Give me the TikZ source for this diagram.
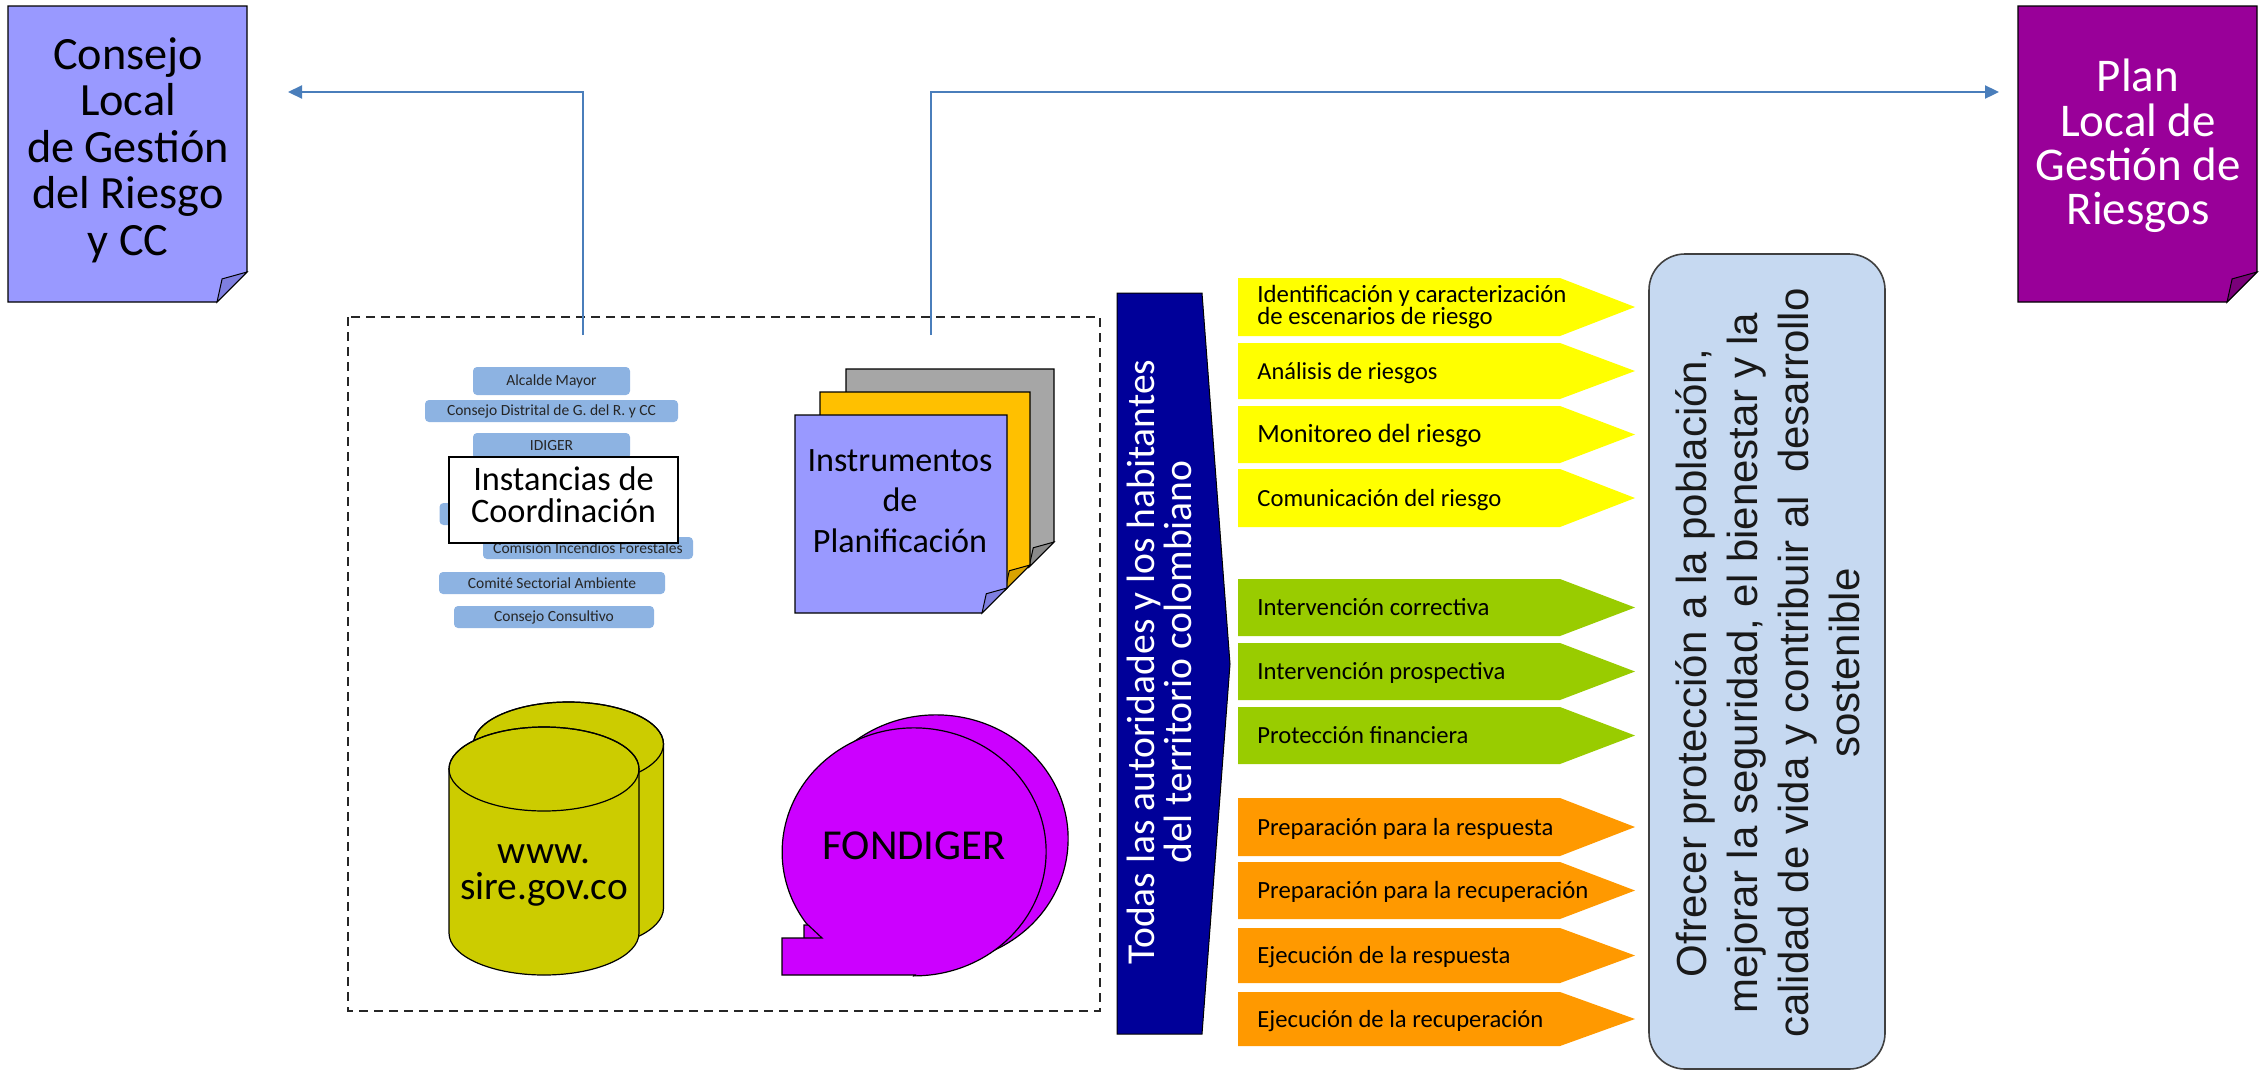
\documentclass[tikz,border=0pt]{standalone}
\usepackage{fontspec}
\setmainfont{Carlito}
\newfontfamily\arialf{Liberation Sans}
\usetikzlibrary{arrows.meta}
\definecolor{docblue}{HTML}{9999FF}
\definecolor{docbluecurl}{HTML}{7F7FE0}
\definecolor{docpurple}{HTML}{990099}
\definecolor{docpurplecurl}{HTML}{7A007A}
\definecolor{navyband}{HTML}{000099}
\definecolor{chevyellow}{HTML}{FFFF00}
\definecolor{chevgreen}{HTML}{99CC00}
\definecolor{chevorange}{HTML}{FF9900}
\definecolor{paleblue}{HTML}{C6D9F1}
\definecolor{boxblue}{HTML}{8DB3E2}
\definecolor{cylfill}{HTML}{CCCC00}
\definecolor{magfill}{HTML}{CC00FF}
\definecolor{graysheet}{HTML}{A6A6A6}
\definecolor{graycurl}{HTML}{8A8A8A}
\definecolor{goldsheet}{HTML}{FFC000}
\definecolor{goldcurl}{HTML}{D9A300}
\definecolor{linkblue}{HTML}{4A7EBB}
\newcommand\fsz[2]{\fontsize{#1}{#2}\selectfont}
% font size chosen so that text #1 is #2 pt wide; baselineskip #3 pt
\newcommand\fitfont[3]{%
  \setbox0=\hbox{\fontsize{10}{12}\selectfont #1}%
  \pgfmathsetmacro\fitsz{10*#2/\wd0}%
  \fontsize{\fitsz}{#3}\selectfont}
% x1 y1 x2 y2 fill curlfill fold
\newcommand\docsheet[7]{%
  \filldraw[fill=#5, draw=black, line width=0.6pt] (#1,#2) -- (#3,#2) -- (#3,{#4-#7}) -- ({#3-#7},#4) -- (#1,#4) -- cycle;
  \filldraw[fill=#6, draw=black, line width=0.5pt] ({#3-#7},#4) -- ({#3-0.83*#7},{#4-0.77*#7}) -- (#3,{#4-#7}) -- cycle;}
% y1 y2 colour name width(pt) text
\newcommand\mychev[6]{%
  \fill[#3] (1238,#1) -- (1560,#1) -- (1635,{(#1+#2)/2}) -- (1560,#2) -- (1238,#2) -- cycle;
  \node[chevtext, font={\fitfont{#6}{#5}{14}}] (#4) at (1257,{(#1+#2)/2+8}) {#6};}
% cx ytop ybot fill
\newcommand\cylshape[4]{%
  \filldraw[fill=#4, draw=black, line width=0.6pt] ({#1-95},#2) -- ({#1-95},#3)
    arc[start angle=180, end angle=360, x radius=47.5pt, y radius=21pt] -- ({#1+95},#2)
    arc[start angle=0, end angle=180, x radius=47.5pt, y radius=21pt] -- cycle;
  \draw[line width=0.6pt] (#1,#2) ellipse[x radius=47.5pt, y radius=21pt];}
% dx dy fill
\newcommand\fondshape[3]{%
  \filldraw[fill=#3, draw=black, line width=0.6pt, shift={(#1,#2)}] (915,975) -- (782,975) -- (782,938) -- (822,938) -- (806,923)
    arc[start angle=215, end angle=-90, x radius=66pt, y radius=62pt] -- cycle;}
\begin{document}
\begin{tikzpicture}[x=0.5pt,y=-0.5pt,
  conn/.style={draw=linkblue, line width=1.1pt, -{Triangle[length=7pt,width=6.5pt]}},
  smallbox/.style={fill=boxblue, rounded corners=2pt, inner sep=0pt, text=black!85,
    font={\fitfont{Consejo Distrital de G. del R. y CC}{104.5}{9}}},
  chevtext/.style={anchor=base west, inner sep=0pt, text=black},
  frame/.style={draw=black!85, line width=0.7pt, dash pattern=on 4.5pt off 3pt}]
\useasboundingbox (0,0) rectangle (2262,1071);

% dashed frame
\draw[frame] (348,317) rectangle (1100,1011);

% connectors
\coordinate (instTop) at (583,335);
\coordinate (consEnd) at (288,92);
\coordinate (instrTop) at (931,335);
\coordinate (planEnd) at (1999,92);
\draw[conn] (instTop) |- (consEnd);
\draw[conn] (instrTop) |- (planEnd);

% instancias small boxes
\node[smallbox, minimum width=78.5pt, minimum height=14pt] (am) at (551.5,381) {Alcalde Mayor};
\node[smallbox, minimum width=126.5pt, minimum height=11pt] (cd) at (551.5,411) {Consejo Distrital de G. del R. y CC};
\node[smallbox, minimum width=78.5pt, minimum height=13pt] (idg) at (551.5,446) {IDIGER};
\node[smallbox, minimum width=105.5pt, minimum height=11pt] (hid) at (545,514) {};
\node[smallbox, minimum width=105pt, minimum height=11pt] (cif) at (588,548) {Comisión Incendios Forestales};
\node[smallbox, minimum width=113pt, minimum height=11pt] (csa) at (552,583) {Comité Sectorial Ambiente};
\node[smallbox, minimum width=100pt, minimum height=11pt] (ccons) at (554,617) {Consejo Consultivo};
\node[draw=black, fill=white, line width=0.8pt, minimum width=114.5pt, minimum height=43pt, inner sep=0pt] (instbox) at (563.5,500) {};
\node[align=center, inner sep=0pt, font={\fitfont{Coordinación}{92.5}{16}}] (insttext) at (563.5,495) {Instancias de\\Coordinación};

% instrumentos sheets
\docsheet{846}{369}{1054}{567}{graysheet}{graycurl}{25}
\docsheet{820}{392}{1030}{590}{goldsheet}{goldcurl}{25}
\docsheet{795}{415}{1007}{613}{docblue}{docbluecurl}{25}
\node[align=center, inner sep=0pt, font={\fitfont{Instrumentos}{92.5}{20.25}}] (instr) at (900,501) {Instrumentos\\de\\Planificación};

% cylinders
\cylshape{568.5}{744}{908}{cylfill}
\cylshape{544}{769}{933}{cylfill}
\node[align=center, inner sep=0pt, font={\fitfont{sire.gov.co}{84}{18}}] (sire) at (544,875) {www.\\sire.gov.co};

% fondiger
\fondshape{22}{-13}{magfill}
\fondshape{0}{0}{magfill}
\node[inner sep=0pt, font={\fitfont{FONDIGER}{91.5}{22}}] (fond) at (914,846) {FONDIGER};

% navy band
\filldraw[fill=navyband, draw=black, line width=0.5pt] (1117,293) -- (1202,293) -- (1230,664) -- (1202,1034) -- (1117,1034) -- cycle;
\node[rotate=90, align=center, inner sep=0pt, text=white,
  font={\fitfont{Todas las autoridades y los habitantes}{302.5}{18.5}}] (todas) at (1159,662)
  {Todas las autoridades y los habitantes\\del territorio colombiano};

% chevrons
\fill[chevyellow] (1238,278) -- (1560,278) -- (1635,307) -- (1560,336) -- (1238,336) -- cycle;
\node[anchor=west, align=left, inner sep=0pt, font={\fitfont{Identificación y caracterización}{154.5}{11}}] (c1) at (1257,307)
  {Identificación y caracterización\\de escenarios de riesgo};
\mychev{343}{399}{chevyellow}{c2}{90}{Análisis de riesgos}
\mychev{406}{463}{chevyellow}{c3}{112}{Monitoreo del riesgo}
\mychev{469}{527}{chevyellow}{c4}{122}{Comunicación del riesgo}
\mychev{579}{636}{chevgreen}{c5}{116}{Intervención correctiva}
\mychev{643}{700}{chevgreen}{c6}{124}{Intervención prospectiva}
\mychev{707}{764}{chevgreen}{c7}{105.5}{Protección financiera}
\mychev{798}{856}{chevorange}{c8}{148}{Preparación para la respuesta}
\mychev{862}{919}{chevorange}{c9}{165.5}{Preparación para la recuperación}
\mychev{928}{983}{chevorange}{c10}{126.5}{Ejecución de la respuesta}
\mychev{992}{1046}{chevorange}{c11}{143}{Ejecución de la recuperación}

% objective box
\node[draw=black!75, fill=paleblue, line width=0.8pt, rounded corners=18pt, minimum width=118pt, minimum height=407.5pt, inner sep=0pt] (objbox) at (1767,661.5) {};
\node[rotate=90, align=center, inner sep=0pt, text=black!90, font=\arialf\fsz{21}{25.5}] (obj) at (1768,663)
  {Ofrecer protección a la población,\\mejorar la seguridad, el bienestar y la\\calidad de vida y contribuir al~~desarrollo\\sostenible};

% documents
\docsheet{8}{6}{247}{302}{docblue}{docbluecurl}{30}
\node[align=center, inner sep=0pt, font={\fitfont{de Gestión}{101}{23.25}}] (cons) at (128,150)
  {Consejo\\Local\\de Gestión\\del Riesgo\\y CC};
\docsheet{2018}{6}{2257}{302}{docpurple}{docpurplecurl}{30}
\node[align=center, inner sep=0pt, text=white, font={\fitfont{Gestión de}{102.5}{22.2}}] (plan) at (2138,146)
  {Plan\\Local de\\Gestión de\\Riesgos};
\end{tikzpicture}
\end{document}
